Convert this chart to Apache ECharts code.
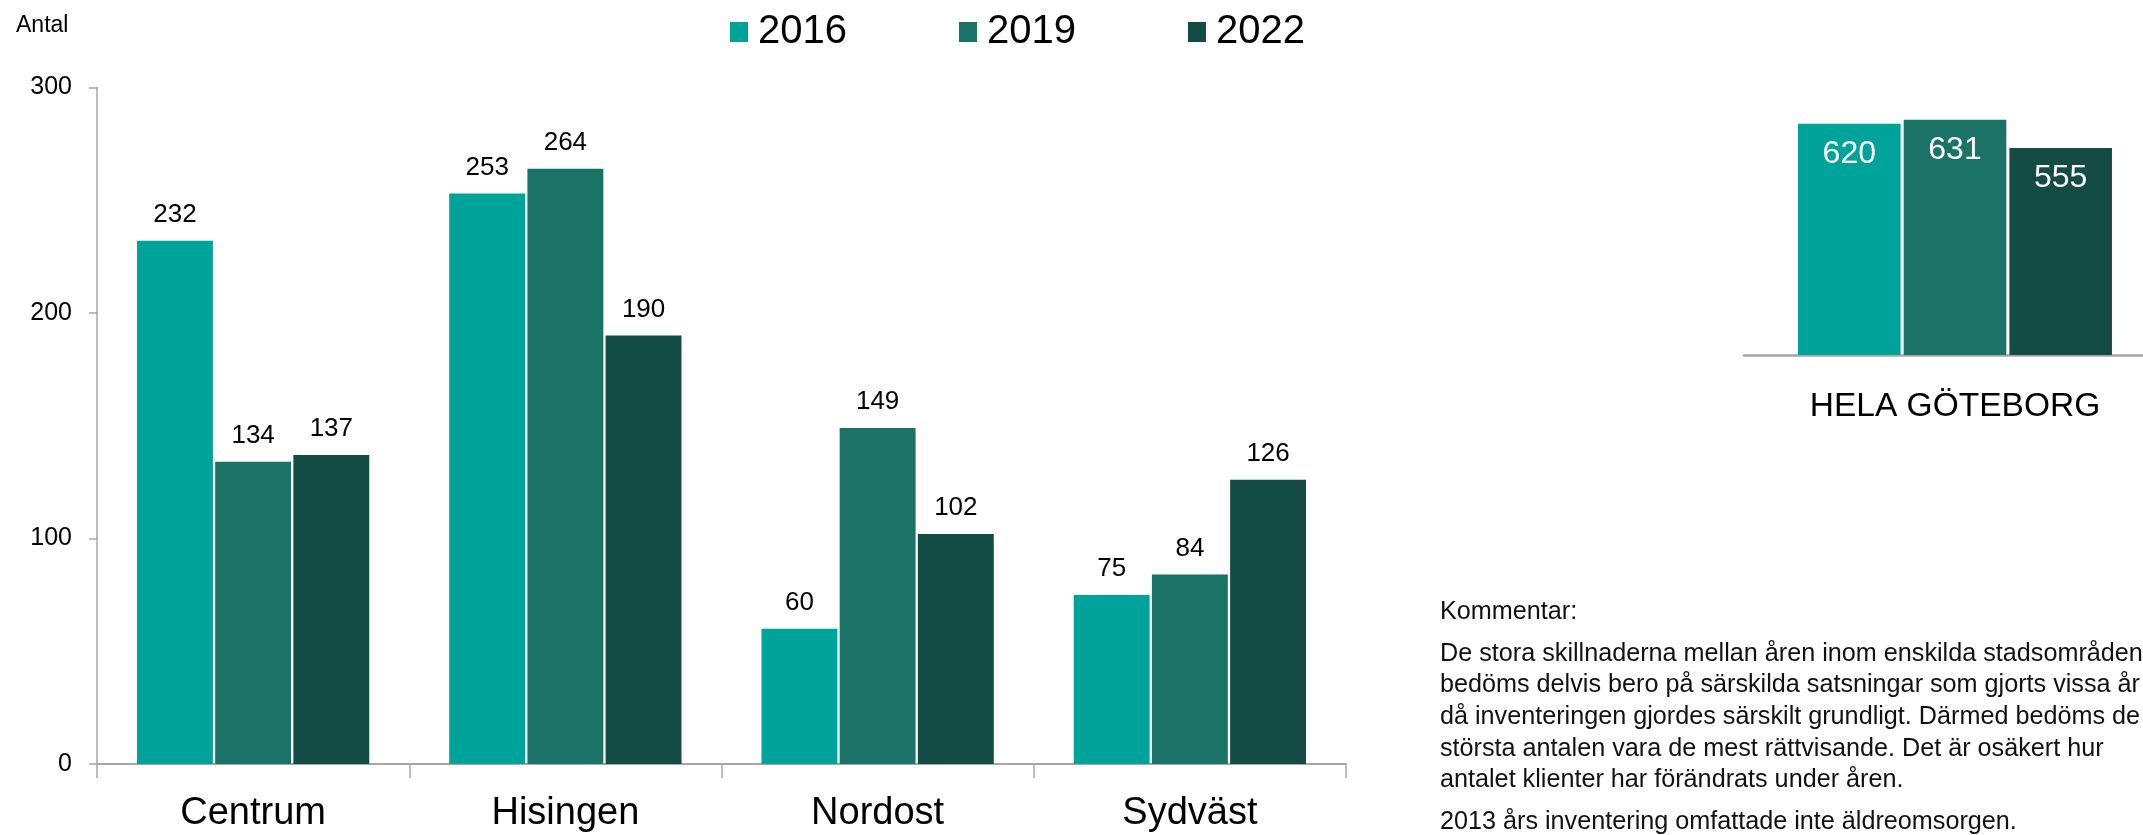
<!DOCTYPE html>
<html>
<head>
<meta charset="utf-8">
<script src="https://cdn.jsdelivr.net/npm/echarts@6/dist/echarts.min.js"></script>
<style>
  html, body { margin: 0; padding: 0; background: #fff; }
  #chart { width: 2143px; height: 835px; }
</style>
</head>
<body>
<div id="chart"></div>
<script>
// stadsområden, antal per år
var categories = ['Centrum', 'Hisingen', 'Nordost', 'Sydväst'];
var v2016 = [232, 253, 60, 75];
var v2019 = [134, 264, 149, 84];
var v2022 = [137, 190, 102, 126];

// hela Göteborg
var totalCategory = ['HELA GÖTEBORG'];
var total2016 = [620];
var total2019 = [631];
var total2022 = [555];

var years = ['2016', '2019', '2022'];
var colors = ['#00a39a', '#1b7367', '#144c45'];

var commentHead = 'Kommentar:';
var commentLines = [
    'De stora skillnaderna mellan åren inom enskilda stadsområden',
    'bedöms delvis bero på särskilda satsningar som gjorts vissa år',
    'då inventeringen gjordes särskilt grundligt. Därmed bedöms de',
    'största antalen vara de mest rättvisande. Det är osäkert hur',
    'antalet klienter har förändrats under åren.'
];
var commentTail = '2013 års inventering omfattade inte äldreomsorgen.';

var font = 'Liberation Sans, Arial, sans-serif';
var axisGray = '#a6a6a6';

var myChart = echarts.init(document.getElementById('chart'));

function barSeries(name, data, idx, color) {
    return {
        name: name,
        type: 'bar',
        xAxisIndex: idx,
        yAxisIndex: idx,
        data: data,
        barGap: '3%',
        barCategoryGap: '25.6%',
        itemStyle: { color: color },
        label: idx === 0 ? {
            show: true,
            position: 'top',
            distance: 13,
            color: '#000',
            fontFamily: font,
            fontSize: 26
        } : {
            show: true,
            position: 'insideTop',
            distance: 14,
            color: '#fff',
            fontFamily: font,
            fontSize: 32
        },
        emphasis: { disabled: true },
        animation: false
    };
}

var option = {
    backgroundColor: '#fff',
    textStyle: { fontFamily: font },
    title: {
        text: 'Antal',
        left: 16,
        top: 14,
        padding: 0,
        textStyle: { fontFamily: font, fontSize: 23, fontWeight: 'normal', color: '#000' }
    },
    legend: {
        data: years,
        left: 730,
        top: 12,
        padding: 0,
        icon: 'rect',
        itemWidth: 18,
        itemHeight: 20,
        itemGap: 112,
        textStyle: { fontFamily: font, fontSize: 40, color: '#000', padding: [0, 0, 0, 5] }
    },
    grid: [
        { left: 97, right: 797, top: 87.5, bottom: 71, outerBoundsMode: 'none' },
        // the axis runs off the right edge, as in the original
        { left: 1744, width: 422, top: 94, bottom: 480, outerBoundsMode: 'none' }
    ],
    xAxis: [
        {
            type: 'category',
            gridIndex: 0,
            data: categories,
            axisLine: { lineStyle: { color: axisGray, width: 2 } },
            axisTick: { show: true, length: 14, lineStyle: { color: axisGray, width: 1.5 } },
            axisLabel: { color: '#000', fontFamily: font, fontSize: 38, margin: 31 }
        },
        {
            type: 'category',
            gridIndex: 1,
            data: totalCategory,
            axisLine: { lineStyle: { color: axisGray, width: 2.5 } },
            axisTick: { show: false },
            axisLabel: { color: '#000', fontFamily: font, fontSize: 33.5, margin: 35 }
        }
    ],
    yAxis: [
        {
            type: 'value',
            gridIndex: 0,
            min: 0,
            max: 300,
            interval: 100,
            axisLine: { show: true, lineStyle: { color: axisGray, width: 1.5 } },
            axisTick: { show: true, length: 8, lineStyle: { color: axisGray, width: 1.5 } },
            splitLine: { show: false },
            axisLabel: { color: '#000', fontFamily: font, fontSize: 25, margin: 25 }
        },
        {
            type: 'value',
            gridIndex: 1,
            min: 0,
            max: 700,
            show: false,
            splitLine: { show: false }
        }
    ],
    graphic: [
        {
            type: 'text',
            left: 1440,
            top: 600,
            style: { text: commentHead, fill: '#111', font: '25.2px ' + font }
        },
        {
            type: 'text',
            left: 1440,
            top: 638,
            style: { text: commentLines.join('\n'), fill: '#111', font: '25.2px ' + font, lineHeight: 31.6 }
        },
        {
            type: 'text',
            left: 1440,
            top: 810,
            style: { text: commentTail, fill: '#111', font: '25.2px ' + font }
        }
    ],
    series: [
        barSeries(years[0], v2016, 0, colors[0]),
        barSeries(years[1], v2019, 0, colors[1]),
        barSeries(years[2], v2022, 0, colors[2]),
        barSeries(years[0], total2016, 1, colors[0]),
        barSeries(years[1], total2019, 1, colors[1]),
        barSeries(years[2], total2022, 1, colors[2])
    ]
};

myChart.setOption(option);
</script>
</body>
</html>
